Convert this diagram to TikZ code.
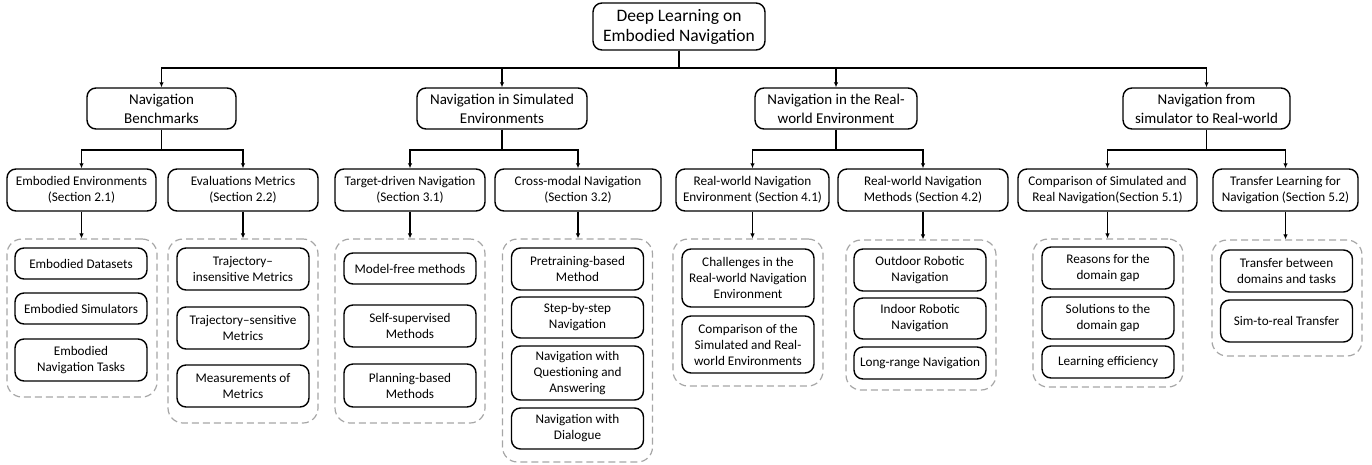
\documentclass[tikz,border=0pt]{standalone}
\usepackage{fontspec}
\setmainfont{Carlito}
\usetikzlibrary{arrows.meta}
\tikzset{
  box/.style={draw, line width=1.4pt, rounded corners=9pt, align=center, inner sep=0pt},
  rootbox/.style={box, minimum width=172pt, minimum height=47pt, font=\fontsize{17.5}{20}\selectfont},
  topicbox/.style={box, minimum height=41pt, font=\fontsize{15}{19}\selectfont},
  secbox/.style={box, minimum height=42pt, font=\fontsize{13.2}{16}\selectfont},
  leafbox/.style={box, minimum width=132pt, font=\fontsize{13.2}{16}\selectfont},
  groupbox/.style={draw=gray!70, line width=1.2pt, dash pattern=on 7pt off 4pt, rounded corners=15pt, minimum width=150pt, inner sep=0pt},
  link/.style={line width=1.3pt, -{Latex[length=5pt,width=4.5pt]}}
}
\begin{document}
\begin{tikzpicture}[x=1pt, y=-1pt]
    \useasboundingbox (0,0) rectangle (1372,464);
    \node[rootbox] (root) at (679,26.5) {Deep Learning on\\Embodied Navigation};

    \node[topicbox, minimum width=149pt] (bench) at (161.5,108.5) {Navigation\\Benchmarks};
    \node[topicbox, minimum width=170pt] (sim) at (502,108.5) {Navigation in Simulated\\Environments};
    \node[topicbox, minimum width=162pt] (real) at (836,108.5) {Navigation in the Real-\\world Environment};
    \node[topicbox, minimum width=167pt] (simreal) at (1206.5,108.5) {Navigation from\\simulator to Real-world};

    \node[secbox, minimum width=149pt] (env) at (81.5,190) {Embodied Environments\\(Section 2.1)};
    \node[secbox, minimum width=150pt] (eval) at (243,190) {Evaluations Metrics\\(Section 2.2)};
    \node[secbox, minimum width=150pt] (target) at (410,190) {Target-driven Navigation\\(Section 3.1)};
    \node[secbox, minimum width=166pt] (cross) at (578,190) {Cross-modal Navigation\\(Section 3.2)};
    \node[secbox, minimum width=153pt] (rwenv) at (752.5,190) {Real-world Navigation\\Environment (Section 4.1)};
    \node[secbox, minimum width=170pt] (rwmeth) at (923,190) {Real-world Navigation\\Methods (Section 4.2)};
    \node[secbox, minimum width=179pt] (compare) at (1107.5,190) {Comparison of Simulated and\\Real Navigation(Section 5.1)};
    \node[secbox, minimum width=145pt] (learn) at (1285.5,190) {Transfer Learning for\\Navigation (Section 5.2)};

    \node[groupbox, minimum height=158pt] (g-env) at (82,318) {};
    \node[groupbox, minimum height=184pt] (g-eval) at (243,331) {};
    \node[groupbox, minimum height=184pt] (g-target) at (410,331) {};
    \node[groupbox, minimum height=223pt] (g-cross) at (577.5,350.5) {};
    \node[groupbox, minimum height=147pt] (g-rwenv) at (748,312.5) {};
    \node[groupbox, minimum height=150pt] (g-rwmeth) at (921,315) {};
    \node[groupbox, minimum height=148pt] (g-compare) at (1108,313) {};
    \node[groupbox, minimum height=116pt] (g-learn) at (1287,298) {};

    \node[leafbox, minimum height=31pt] (env-a) at (81,263.5) {Embodied Datasets};
    \node[leafbox, minimum height=31pt] (env-b) at (81,308.5) {Embodied Simulators};
    \node[leafbox, minimum height=42pt] (env-c) at (81,360) {Embodied\\Navigation Tasks};

    \node[leafbox, minimum height=42pt] (eval-a) at (243,269) {Trajectory–\\insensitive Metrics};
    \node[leafbox, minimum height=42pt] (eval-b) at (243,328) {Trajectory–sensitive\\Metrics};
    \node[leafbox, minimum height=42pt] (eval-c) at (243,386) {Measurements of\\Metrics};

    \node[leafbox, minimum height=31pt] (target-a) at (410,268.5) {Model-free methods};
    \node[leafbox, minimum height=42pt] (target-b) at (410,326) {Self-supervised\\Methods};
    \node[leafbox, minimum height=43pt] (target-c) at (410,385.5) {Planning-based\\Methods};

    \node[leafbox, minimum height=42pt] (cross-a) at (577.5,269) {Pretraining-based\\Method};
    \node[leafbox, minimum height=41pt] (cross-b) at (577.5,317.5) {Step-by-step\\Navigation};
    \node[leafbox, minimum height=54pt] (cross-c) at (577.5,373) {Navigation with\\Questioning and\\Answering};
    \node[leafbox, minimum height=41pt] (cross-d) at (577.5,428.5) {Navigation with\\Dialogue};

    \node[leafbox, minimum height=58pt] (rwenv-a) at (748,278) {Challenges in the\\Real-world Navigation\\Environment};
    \node[leafbox, minimum height=57pt] (rwenv-b) at (748,344.5) {Comparison of the\\Simulated and Real-\\world Environments};

    \node[leafbox, minimum height=42pt] (rwmeth-a) at (920,270) {Outdoor Robotic\\Navigation};
    \node[leafbox, minimum height=41pt] (rwmeth-b) at (920,318.5) {Indoor Robotic\\Navigation};
    \node[leafbox, minimum height=32pt] (rwmeth-c) at (920,363) {Long-range Navigation};

    \node[leafbox, minimum height=42pt] (compare-a) at (1108,268) {Reasons for the\\domain gap};
    \node[leafbox, minimum height=42pt] (compare-b) at (1108,318) {Solutions to the\\domain gap};
    \node[leafbox, minimum height=32pt] (compare-c) at (1108,362) {Learning efficiency};

    \node[leafbox, minimum height=42pt] (learn-a) at (1286.5,271) {Transfer between\\domains and tasks};
    \node[leafbox, minimum height=42pt] (learn-b) at (1286.5,321) {Sim-to-real Transfer};

    \draw[link] (root.south) -- (root.south |- 0,68) -| (bench.north);
    \draw[link] (root.south) -- (root.south |- 0,68) -| (sim.north);
    \draw[link] (root.south) -- (root.south |- 0,68) -| (real.north);
    \draw[link] (root.south) -- (root.south |- 0,68) -| (simreal.north);

    \draw[link] (bench.south) -- (bench.south |- 0,150) -| (env.north);
    \draw[link] (bench.south) -- (bench.south |- 0,150) -| (eval.north);
    \draw[link] (sim.south) -- (sim.south |- 0,150) -| (target.north);
    \draw[link] (sim.south) -- (sim.south |- 0,150) -| (cross.north);
    \draw[link] (real.south) -- (real.south |- 0,150) -| (rwenv.north);
    \draw[link] (real.south) -- (real.south |- 0,150) -| (rwmeth.north);
    \draw[link] (simreal.south) -- (simreal.south |- 0,150) -| (compare.north);
    \draw[link] (simreal.south) -- (simreal.south |- 0,150) -| (learn.north);

    \draw[link] (env.south) -- (env.south |- g-env.north);
    \draw[link] (eval.south) -- (eval.south |- g-eval.north);
    \draw[link] (target.south) -- (target.south |- g-target.north);
    \draw[link] (cross.south) -- (cross.south |- g-cross.north);
    \draw[link] (rwenv.south) -- (rwenv.south |- g-rwenv.north);
    \draw[link] (rwmeth.south) -- (rwmeth.south |- g-rwmeth.north);
    \draw[link] (compare.south) -- (compare.south |- g-compare.north);
    \draw[link] (learn.south) -- (learn.south |- g-learn.north);
\end{tikzpicture}
\end{document}
